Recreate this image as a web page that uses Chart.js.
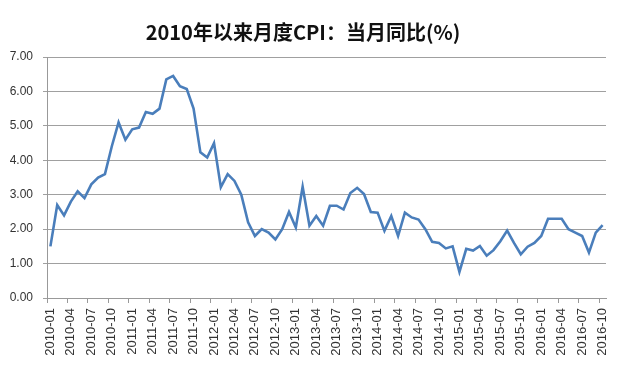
<!DOCTYPE html>
<html lang="zh">
<head>
  <meta charset="UTF-8">
  <title>2010年以来月度CPI</title>
  <script src="https://cdn.jsdelivr.net/npm/chart.js"></script>
  <style>
    html, body { margin: 0; padding: 0; background: #fff; }
    #wrap { width: 640px; height: 368px; }
  </style>
</head>
<body>
  <div id="wrap"><canvas id="cpiChart" width="640" height="368"></canvas></div>
  <script>
    // months 2010-01 .. 2016-10
    const years = ['2010', '2011', '2012', '2013', '2014', '2015', '2016'];
    const months = ['01', '02', '03', '04', '05', '06', '07', '08', '09', '10', '11', '12'];
    const labels = [];
    years.forEach(y => months.forEach(m => labels.push(y + '-' + m)));
    labels.length = 82;

    // CPI year-on-year (%)
    const cpi2010 = [1.5, 2.7, 2.4, 2.8, 3.1, 2.9, 3.3, 3.5, 3.6, 4.4, 5.1, 4.6];
    const cpi2011 = [4.9, 4.95, 5.4, 5.35, 5.5, 6.35, 6.45, 6.15, 6.07, 5.5, 4.23, 4.08];
    const cpi2012 = [4.5, 3.22, 3.6, 3.4, 3.0, 2.2, 1.8, 2.0, 1.9, 1.7, 2.0, 2.5];
    const cpi2013 = [2.05, 3.23, 2.1, 2.38, 2.1, 2.68, 2.68, 2.57, 3.05, 3.2, 3.02, 2.5];
    const cpi2014 = [2.48, 1.95, 2.38, 1.8, 2.48, 2.34, 2.28, 2.0, 1.63, 1.6, 1.44, 1.5];
    const cpi2015 = [0.76, 1.43, 1.38, 1.51, 1.23, 1.39, 1.65, 1.96, 1.6, 1.27, 1.49, 1.6];
    const cpi2016 = [1.8, 2.3, 2.3, 2.3, 2.0, 1.9, 1.8, 1.32, 1.9, 2.12];
    const cpi = [].concat(cpi2010, cpi2011, cpi2012, cpi2013, cpi2014, cpi2015, cpi2016);

    const ctx = document.getElementById('cpiChart').getContext('2d');
    new Chart(ctx, {
      type: 'line',
      data: {
        labels: labels,
        datasets: [{
          label: 'CPI当月同比',
          data: cpi,
          borderColor: '#4a7ebb',
          borderWidth: 2.6,
          pointRadius: 0,
          tension: 0,
          fill: false
        }]
      },
      options: {
        responsive: false,
        animation: false,
        layout: { padding: { left: 0, right: 34, top: 0, bottom: 0 } },
        plugins: {
          legend: { display: false },
          tooltip: { enabled: false },
          title: {
            display: true,
            text: '2010年以来月度CPI：当月同比(%)',
            color: '#111',
            font: { family: '"Noto Sans CJK SC", "Noto Sans", sans-serif', size: 20, weight: 'bold' },
            padding: { top: 20, bottom: 13 }
          }
        },
        scales: {
          x: {
            offset: true,
            grid: {
              offset: true,
              drawOnChartArea: false,
              drawTicks: true,
              tickLength: 5,
              color: ctx => (ctx.index % 3 === 0 ? '#999' : 'rgba(0,0,0,0)')
            },
            border: { color: '#999', width: 1 },
            ticks: {
              autoSkip: false,
              maxRotation: 90,
              minRotation: 90,
              padding: 5,
              color: '#333',
              font: { family: '"Liberation Sans", Arial, sans-serif', size: 13 },
              callback: function (v, i) { return i % 3 === 0 ? this.getLabelForValue(v) : ''; }
            },
            afterFit: s => { s.height = 70; }
          },
          y: {
            min: 0,
            max: 7,
            ticks: {
              stepSize: 1,
              color: '#333',
              padding: 10,
              font: { family: '"Liberation Sans", Arial, sans-serif', size: 12 },
              callback: v => v.toFixed(2)
            },
            grid: { color: '#a0a0a0', lineWidth: 1, tickLength: 4 },
            border: { color: '#999', width: 1 },
            afterFit: s => { s.width = 47; }
          }
        }
      }
    });
  </script>
</body>
</html>
